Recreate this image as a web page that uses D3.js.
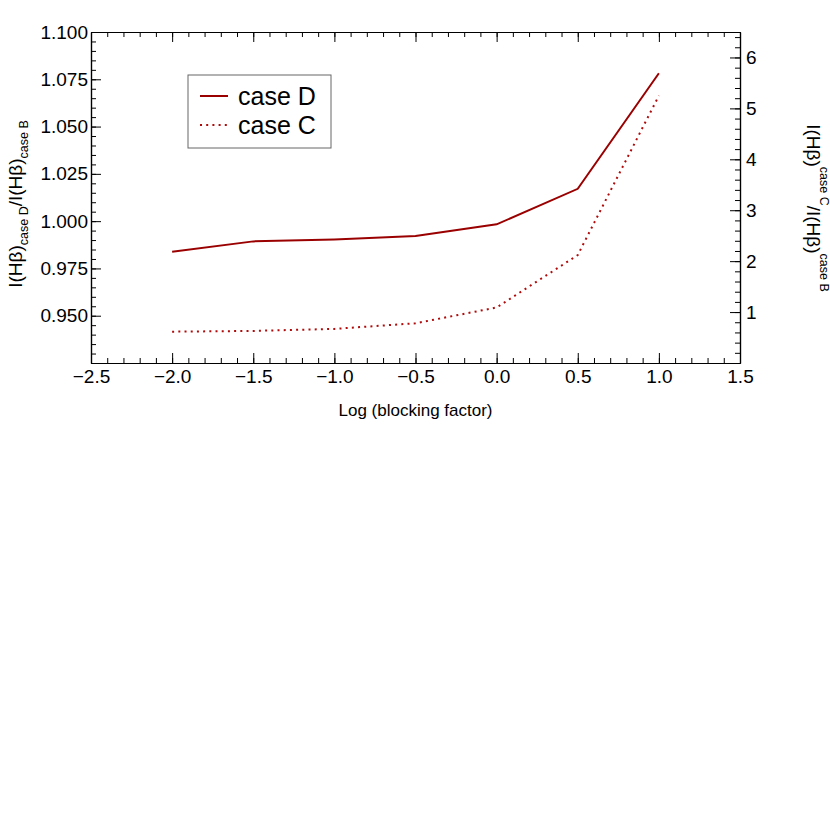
<!DOCTYPE html>
<html>
<head>
<meta charset="utf-8">
<script src="https://cdn.jsdelivr.net/npm/d3@7"></script>
<style>
  body { margin: 0; background: #fff; }
  text { font-family: "Liberation Sans", Arial, sans-serif; fill: #000; }
</style>
</head>
<body>
<div id="chart"></div>
<script>
// log of blocking factor
const logBlocking = [-2.0, -1.5, -1.0, -0.5, 0.0, 0.5, 1.0];
// I(Hb) case D / I(Hb) case B  (left axis)
const caseD = [0.9838, 0.9893, 0.9903, 0.9921, 0.9983, 1.0171, 1.0782];
// I(Hb) case C / I(Hb) case B  (right axis)
const caseC = [0.615, 0.63, 0.67, 0.78, 1.09, 2.12, 5.25];

const xTicks = [-2.5, -2.0, -1.5, -1.0, -0.5, 0.0, 0.5, 1.0, 1.5];
const yLeftTicks = [0.950, 0.975, 1.000, 1.025, 1.050, 1.075, 1.100];
const yRightTicks = [1, 2, 3, 4, 5, 6];

const W = 830, H = 830;
const m = { top: 32, left: 91, right: 90, bottom: 467 };
const pw = W - m.left - m.right, ph = H - m.top - m.bottom;

const colD = "#9a0000", colC = "#b00a0a";

const svg = d3.select("#chart").append("svg")
  .attr("width", W).attr("height", H);

const g = svg.append("g").attr("transform", `translate(${m.left},${m.top})`);

const x = d3.scaleLinear().domain([-2.5, 1.5]).range([0, pw]);
const yL = d3.scaleLinear().domain([0.925, 1.1]).range([ph, 0]);
const yR = d3.scaleLinear().domain([0, 6.5]).range([ph, 0]);

// minor ticks
const xMinor = d3.range(-2.5, 1.5001, 0.1).map(v => +v.toFixed(2));
const yLMinor = d3.range(0.925, 1.1001, 0.005).map(v => +v.toFixed(3));
const yRMinor = d3.range(0.2, 6.5, 0.2).map(v => +v.toFixed(2));

function styleAxis(sel) {
  sel.selectAll("path").attr("stroke", "#000").attr("stroke-width", 1.2);
  sel.selectAll("line").attr("stroke", "#000");
  sel.selectAll("text").style("font-size", "19px")
    .style("font-family", "'Liberation Sans', Arial, sans-serif");
}

// bottom axis
g.append("g").attr("transform", `translate(0,${ph})`)
  .call(d3.axisBottom(x).tickValues(xMinor).tickSize(-5).tickFormat("").tickSizeOuter(0))
  .call(styleAxis);
g.append("g").attr("transform", `translate(0,${ph})`)
  .call(d3.axisBottom(x).tickValues(xTicks).tickSize(-10).tickSizeOuter(0)
    .tickPadding(7).tickFormat(d3.format(".1f")))
  .call(styleAxis);

// top axis
g.append("g")
  .call(d3.axisTop(x).tickValues(xMinor).tickSize(-5).tickFormat("").tickSizeOuter(0))
  .call(styleAxis);
g.append("g")
  .call(d3.axisTop(x).tickValues(xTicks).tickSize(-10).tickFormat("").tickSizeOuter(0))
  .call(styleAxis);

// left axis
g.append("g")
  .call(d3.axisLeft(yL).tickValues(yLMinor).tickSize(-5).tickFormat("").tickSizeOuter(0))
  .call(styleAxis);
g.append("g")
  .call(d3.axisLeft(yL).tickValues(yLeftTicks).tickSize(-10).tickSizeOuter(0)
    .tickPadding(3).tickFormat(d3.format(".3f")))
  .call(styleAxis);

// right axis
g.append("g").attr("transform", `translate(${pw},0)`)
  .call(d3.axisRight(yR).tickValues(yRMinor).tickSize(-5).tickFormat("").tickSizeOuter(0))
  .call(styleAxis);
g.append("g").attr("transform", `translate(${pw},0)`)
  .call(d3.axisRight(yR).tickValues(yRightTicks).tickSize(-10).tickSizeOuter(0)
    .tickPadding(6).tickFormat(d3.format("d")))
  .call(styleAxis);

// lines
const lineD = d3.line().x((d, i) => x(logBlocking[i])).y(d => yL(d));
const lineC = d3.line().x((d, i) => x(logBlocking[i])).y(d => yR(d));

g.append("path").datum(caseD)
  .attr("d", lineD).attr("fill", "none")
  .attr("stroke", colD).attr("stroke-width", 2);

g.append("path").datum(caseC)
  .attr("d", lineC).attr("fill", "none")
  .attr("stroke", colC).attr("stroke-width", 2)
  .attr("stroke-dasharray", "2,4.2");

// legend
const leg = svg.append("g").attr("transform", "translate(188,75)");
leg.append("rect").attr("width", 143).attr("height", 73)
  .attr("fill", "#fff").attr("stroke", "#666").attr("stroke-width", 1);
leg.append("line").attr("x1", 12).attr("x2", 40).attr("y1", 21).attr("y2", 21)
  .attr("stroke", colD).attr("stroke-width", 2);
leg.append("line").attr("x1", 12).attr("x2", 40).attr("y1", 50).attr("y2", 50)
  .attr("stroke", colC).attr("stroke-width", 2).attr("stroke-dasharray", "2,4.2");
leg.append("text").attr("x", 50).attr("y", 30).style("font-size", "25px").text("case D");
leg.append("text").attr("x", 50).attr("y", 59).style("font-size", "25px").text("case C");

// axis titles
svg.append("text")
  .attr("x", m.left + pw / 2).attr("y", 416)
  .attr("text-anchor", "middle").style("font-size", "17px")
  .text("Log (blocking factor)");

function ratioTitle(t, sub1, shift) {
  t.append("tspan").text("I(H\u03b2)");
  t.append("tspan").attr("dy", shift).style("font-size", "12.5px").text(sub1);
  t.append("tspan").attr("dy", -shift).text("/I(H\u03b2)");
  t.append("tspan").attr("dy", shift).style("font-size", "12.5px").text("case B");
}

const tl = svg.append("text")
  .attr("transform", `translate(22,204) rotate(-90)`)
  .attr("text-anchor", "middle").style("font-size", "19px");
ratioTitle(tl, "case D", 6);

// right title: reads downward, subscripts sit on its right side
const tr = svg.append("text")
  .attr("transform", `translate(807,208) rotate(90)`)
  .attr("text-anchor", "middle").style("font-size", "19px");
ratioTitle(tr, "case C", -13);
</script>
</body>
</html>
